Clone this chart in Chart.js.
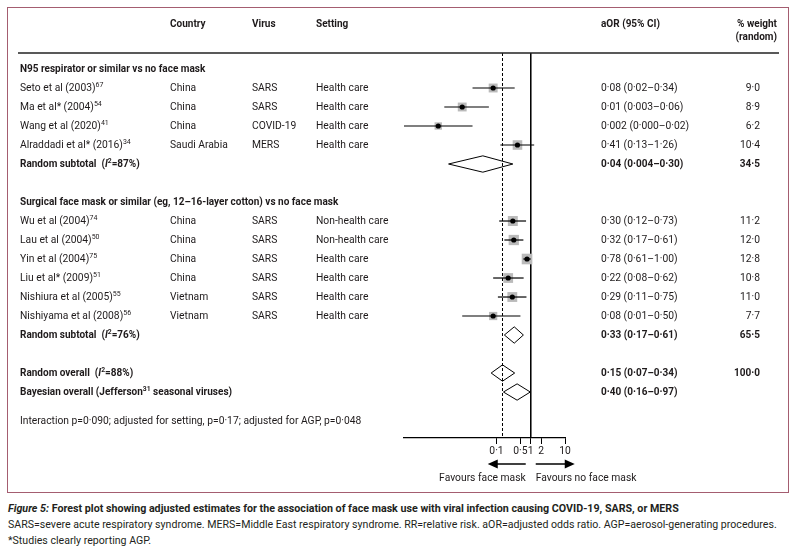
<!DOCTYPE html>
<html>
<head>
<meta charset="utf-8">
<script src="https://cdn.jsdelivr.net/npm/chart.js@4/dist/chart.umd.min.js"></script>
<style>
  html, body { margin:0; padding:0; background:#fff; }
  body { width:804px; height:559px; position:relative; overflow:hidden; }
  #frame { position:absolute; left:7px; top:7px; width:780px; height:484px; border:1px solid #a45d70; }
  #c { position:absolute; left:0; top:0; }
  #cap { position:absolute; left:8px; top:501px; width:796px; color:#231f20; line-height:16px; white-space:nowrap; }
  #cap .l1 { font-weight:bold; font-size:12px; }
  #cap .l2 { font-size:11px; }
</style>
</head>
<body>
<div id="frame"></div>
<canvas id="c" width="804" height="495" style="width:804px;height:495px"></canvas>
<div id="cap">
  <div class="l1"><i>Figure 5:</i> Forest plot showing adjusted estimates for the association of face mask use with viral infection causing COVID-19, SARS, or MERS</div>
  <div class="l2">SARS=severe acute respiratory syndrome. MERS=Middle East respiratory syndrome. RR=relative risk. aOR=adjusted odds ratio. AGP=aerosol-generating procedures.</div>
  <div class="l2">*Studies clearly reporting AGP.</div>
</div>
<script>
// ---------------- DATA ----------------
const studies   = ["Seto et al (2003)", "Ma et al* (2004)", "Wang et al (2020)", "Alraddadi et al* (2016)",
                   "Wu et al (2004)", "Lau et al (2004)", "Yin et al (2004)", "Liu et al* (2009)",
                   "Nishiura et al (2005)", "Nishiyama et al (2008)"];
const refs      = ["67", "54", "41", "34", "74", "50", "75", "51", "55", "56"];
const countries = ["China", "China", "China", "Saudi Arabia", "China", "China", "China", "China", "Vietnam", "Vietnam"];
const viruses   = ["SARS", "SARS", "COVID-19", "MERS", "SARS", "SARS", "SARS", "SARS", "SARS", "SARS"];
const settings  = ["Health care", "Health care", "Health care", "Health care", "Non-health care", "Non-health care",
                   "Health care", "Health care", "Health care", "Health care"];
const aor       = [0.08, 0.01, 0.002, 0.41, 0.30, 0.32, 0.78, 0.22, 0.29, 0.08];
const ciLow     = [0.02, 0.003, 0.0002, 0.13, 0.12, 0.17, 0.61, 0.08, 0.11, 0.01];
const ciHigh    = [0.34, 0.06, 0.02, 1.26, 0.73, 0.61, 1.00, 0.62, 0.75, 0.50];
const ciLabels  = ["0·08 (0·02–0·34)", "0·01 (0·003–0·06)", "0·002 (0·000–0·02)", "0·41 (0·13–1·26)",
                   "0·30 (0·12–0·73)", "0·32 (0·17–0·61)", "0·78 (0·61–1·00)", "0·22 (0·08–0·62)",
                   "0·29 (0·11–0·75)", "0·08 (0·01–0·50)"];
const weights   = [9.0, 8.9, 6.2, 10.4, 11.2, 12.0, 12.8, 10.8, 11.0, 7.7];
const studyRows = [1, 2, 3, 4, 8, 9, 10, 11, 12, 13];

const groupTitles = ["N95 respirator or similar vs no face mask",
                     "Surgical face mask or similar (eg, 12–16-layer cotton) vs no face mask"];
const groupRows   = [0, 7];

const summaryNames   = ["Random subtotal", "Random subtotal", "Random overall", "Bayesian overall"];
const summaryI2      = ["87%", "76%", "88%", ""];
const summaryEst     = [0.04, 0.33, 0.15, 0.40];
const summaryLow     = [0.004, 0.17, 0.07, 0.16];
const summaryHigh    = [0.30, 0.61, 0.34, 0.97];
const summaryLabels  = ["0·04 (0·004–0·30)", "0·33 (0·17–0·61)", "0·15 (0·07–0·34)", "0·40 (0·16–0·97)"];
const summaryWeights = ["34·5", "65·5", "100·0", ""];
const summaryRows    = [5, 14, 16, 17];

const tickValues = [0.1, 0.5, 1, 2, 10];
const xMin = 0.0002, xMax = 10;
const noteText = "Interaction p=0·090; adjusted for setting, p=0·17; adjusted for AGP, p=0·048";
const noteRow = 18.53;

// ---------------- FONT ----------------
function hasFont(name) {
  const cv = document.createElement('canvas').getContext('2d');
  const s = 'Seto et al (2003) abcdefghijklmnop';
  cv.font = '20px monospace'; const a = cv.measureText(s).width;
  cv.font = '20px "' + name + '", monospace'; const b = cv.measureText(s).width;
  return Math.abs(a - b) > 0.5;
}
const narrow = hasFont('Liberation Sans Narrow');
const FAM = narrow ? '"Liberation Sans Narrow"' : 'Roboto';
const FS = narrow ? 11 : 10.3;     // regular text size
const FSB = narrow ? 11 : 10.0;    // bold text size
document.getElementById('cap').style.fontFamily = narrow ? '"Liberation Sans Narrow", sans-serif' : 'Roboto, sans-serif';
if (!narrow) { document.querySelector('#cap .l1').style.fontSize = '10.7px'; document.querySelectorAll('#cap .l2').forEach(e => e.style.fontSize = '10.6px'); }
const TXT = '#1e1a1b';

// ---------------- DATASETS ----------------
const yMin = -0.842, yMax = 19.42;
const datasets = [];
// reference lines
datasets.push({ data: [{x: 1, y: yMin}, {x: 1, y: yMax}], showLine: true, borderColor: '#000', borderWidth: 1,
  pointRadius: 0, order: 10 });
datasets.push({ data: [{x: summaryEst[2], y: yMin}, {x: summaryEst[2], y: yMax}], showLine: true, borderColor: '#000',
  borderWidth: 1, borderDash: [3, 2], pointRadius: 0, order: 10 });
// weight squares
datasets.push({ data: aor.map((v, i) => ({x: v, y: studyRows[i]})), pointStyle: 'rect',
  pointRadius: weights.map(w => 2.1 * Math.sqrt(w)), backgroundColor: '#bababa', borderWidth: 0, order: 8 });
// whiskers
aor.forEach((v, i) => {
  datasets.push({ data: [{x: ciLow[i], y: studyRows[i]}, {x: ciHigh[i], y: studyRows[i]}], showLine: true,
    borderColor: '#000', borderWidth: 1.2, pointRadius: 0, order: 5 });
});
// centre dots
datasets.push({ data: aor.map((v, i) => ({x: v, y: studyRows[i]})), pointStyle: 'circle', pointRadius: 2.6,
  backgroundColor: '#000', borderWidth: 0, order: 1 });
// diamonds
const dh = 0.43;
summaryEst.forEach((v, i) => {
  const r = summaryRows[i];
  datasets.push({ data: [{x: summaryLow[i], y: r}, {x: v, y: r - dh}, {x: summaryHigh[i], y: r}, {x: v, y: r + dh}, {x: summaryLow[i], y: r}],
    showLine: true, borderColor: '#000', borderWidth: 1, backgroundColor: '#fff', fill: false, pointRadius: 0, order: 4 });
});

// ---------------- TEXT PLUGIN ----------------
function font(size, bold, italic) { return (italic ? 'italic ' : '') + (bold ? 'bold ' : '') + size + 'px ' + FAM; }
// parts: [text, flags]; flags: 'b' bold, 'i' italic, 's' superscript
function rich(ctx, parts, x, y, bold, align) {
  const base = bold ? FSB : FS;
  const setF = f => { ctx.font = font(f.includes('s') ? base * 0.68 : base, bold || f.includes('b'), f.includes('i')); };
  const w = parts.map(p => { setF(p[1] || ''); return ctx.measureText(p[0]).width; });
  const total = w.reduce((a, b) => a + b, 0);
  let cx = align === 'right' ? x - total : (align === 'center' ? x - total / 2 : x);
  parts.forEach((p, k) => {
    const f = p[1] || '';
    setF(f);
    ctx.textAlign = 'left';
    ctx.fillText(p[0], cx, f.includes('s') ? y - base * 0.33 : y);
    cx += w[k];
  });
}
const COLX = { study: 20, country: 170, virus: 252, setting: 316, ci: 601, wt: 760 };
const textPlugin = {
  id: 'forestText',
  afterDraw(chart) {
    const ctx = chart.ctx, ys = chart.scales.y, xs = chart.scales.x;
    ctx.save();
    ctx.fillStyle = TXT; ctx.textBaseline = 'middle';
    // headers
    rich(ctx, [["Country"]], COLX.country, 24, true);
    rich(ctx, [["Virus"]], COLX.virus, 24, true);
    rich(ctx, [["Setting"]], COLX.setting, 24, true);
    rich(ctx, [["aOR (95% CI)"]], COLX.ci, 24, true);
    rich(ctx, [["% weight"]], 777, 24, true, 'right');
    rich(ctx, [["(random)"]], 777, 37, true, 'right');
    ctx.strokeStyle = '#222'; ctx.lineWidth = 1.3;
    ctx.beginPath(); ctx.moveTo(18, 53); ctx.lineTo(779, 53); ctx.stroke();
    // group titles
    groupTitles.forEach((t, i) => rich(ctx, [[t]], COLX.study, ys.getPixelForValue(groupRows[i]) + 0.5, true));
    // studies
    studies.forEach((s, i) => {
      const y = ys.getPixelForValue(studyRows[i]) + 0.5;
      rich(ctx, [[s], [refs[i], 's']], COLX.study, y, false);
      rich(ctx, [[countries[i]]], COLX.country, y, false);
      rich(ctx, [[viruses[i]]], COLX.virus, y, false);
      rich(ctx, [[settings[i]]], COLX.setting, y, false);
      rich(ctx, [[ciLabels[i]]], COLX.ci, y, false);
      rich(ctx, [[weights[i].toFixed(1).replace('.', '·')]], COLX.wt, y, false, 'right');
    });
    // summaries
    summaryNames.forEach((s, i) => {
      const y = ys.getPixelForValue(summaryRows[i]) + 0.5;
      if (summaryI2[i]) rich(ctx, [[s + '  ('], ['I', 'i'], ['2', 's'], ['=' + summaryI2[i] + ')']], COLX.study, y, true);
      else rich(ctx, [[s + ' (Jefferson'], ['31', 's'], [' seasonal viruses)']], COLX.study, y, true);
      rich(ctx, [[summaryLabels[i]]], COLX.ci, y, true);
      if (summaryWeights[i]) rich(ctx, [[summaryWeights[i]]], COLX.wt, y, true, 'right');
    });
    // note
    rich(ctx, [[noteText]], COLX.study, ys.getPixelForValue(noteRow), false);
    // arrows + favours labels
    const x1 = xs.getPixelForValue(1);
    const ay = 464;
    ctx.strokeStyle = '#000'; ctx.fillStyle = '#000'; ctx.lineWidth = 1.5;
    const arrow = (xa, xb) => {
      const dir = Math.sign(xb - xa);
      ctx.beginPath(); ctx.moveTo(xa, ay); ctx.lineTo(xb - dir * 7, ay); ctx.stroke();
      ctx.beginPath(); ctx.moveTo(xb, ay); ctx.lineTo(xb - dir * 10, ay - 4.5); ctx.lineTo(xb - dir * 10, ay + 4.5); ctx.closePath(); ctx.fill();
    };
    arrow(x1 - 5, x1 - 43);
    arrow(x1 + 5, x1 + 44);
    ctx.fillStyle = TXT;
    rich(ctx, [["Favours face mask"]], x1 - 5, 478, false, 'right');
    rich(ctx, [["Favours no face mask"]], x1 + 5, 478, false);
    ctx.restore();
  }
};

// ---------------- CHART ----------------
new Chart(document.getElementById('c'), {
  type: 'scatter',
  data: { datasets },
  options: {
    responsive: false, animation: false, devicePixelRatio: 1,
    layout: { padding: { left: 404, right: 239, top: 53, bottom: 37 } },
    plugins: { legend: { display: false }, tooltip: { enabled: false } },
    scales: {
      x: {
        type: 'logarithmic', min: xMin, max: xMax,
        afterBuildTicks: s => { s.ticks = tickValues.map(v => ({ value: v })); },
        afterFit: s => { s.height = 20; },
        ticks: { autoSkip: false, maxRotation: 0, padding: 1, color: TXT,
          font: { family: FAM.replace(/"/g, ''), size: FS },
          callback: v => String(v).replace('.', '·') },
        grid: { drawOnChartArea: false, drawTicks: true, tickLength: 6, color: '#000', lineWidth: 1 },
        border: { display: true, color: '#000', width: 1.2 }
      },
      y: { type: 'linear', reverse: true, min: yMin, max: yMax, display: false }
    }
  },
  plugins: [textPlugin]
});
</script>
</body>
</html>
